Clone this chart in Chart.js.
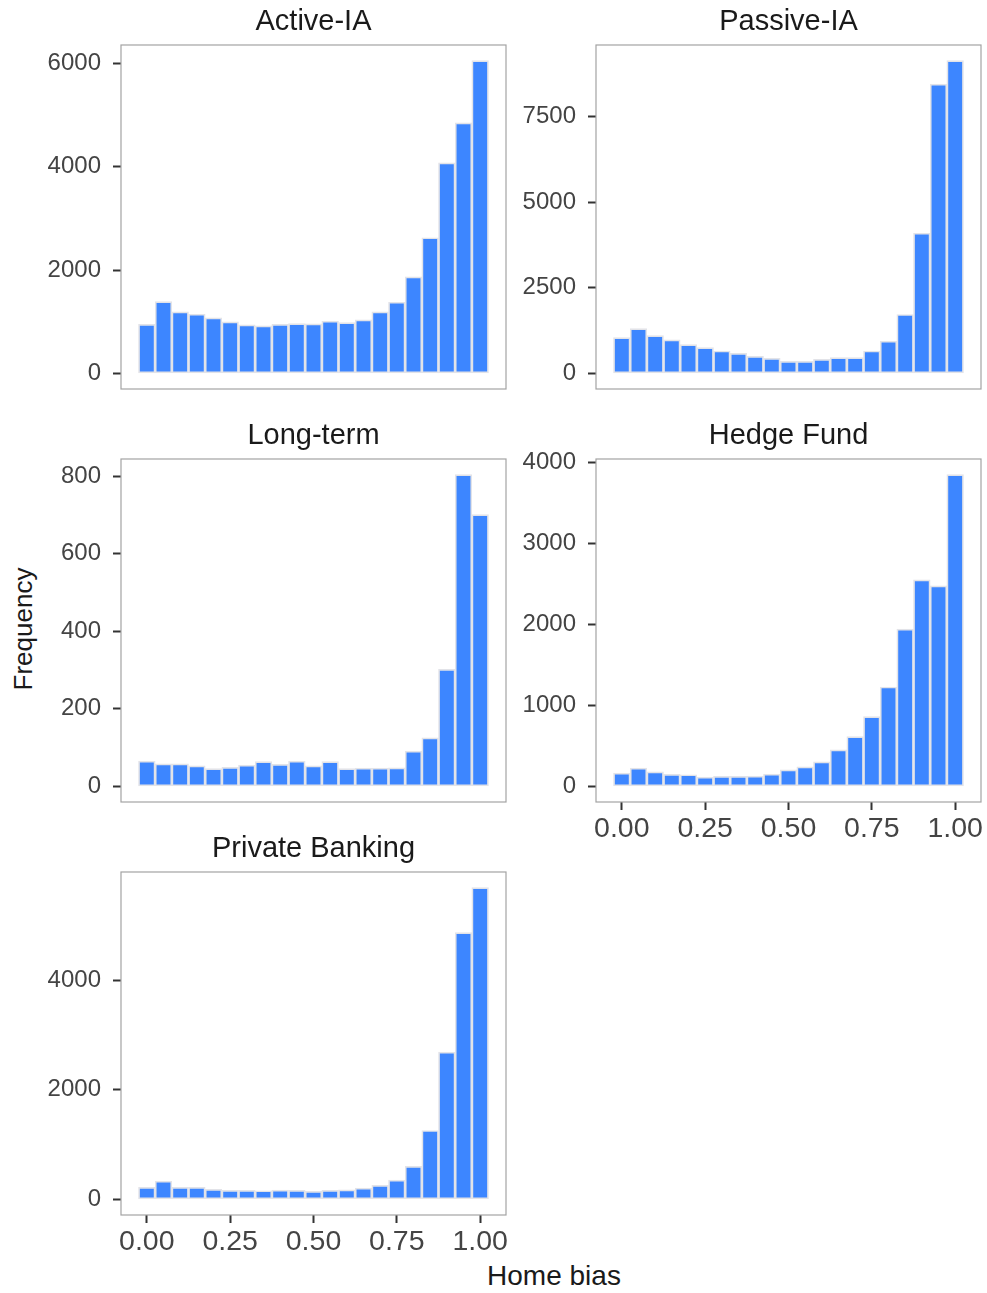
<!DOCTYPE html>
<html>
<head>
<meta charset="utf-8">
<script src="https://cdn.jsdelivr.net/npm/chart.js@4/dist/chart.umd.min.js"></script>
<style>
  html, body { margin: 0; padding: 0; background: #ffffff; }
  #page { position: relative; width: 987px; height: 1293px; background: #ffffff; overflow: hidden;
          font-family: "Liberation Sans", Arial, Helvetica, sans-serif; }
  #page canvas { position: absolute; }
  .axis-title { position: absolute; color: #1a1a1a; white-space: nowrap; line-height: 1; }
</style>
</head>
<body>
<div id="page">
  <div class="axis-title" id="ytitle">Frequency</div>
  <div class="axis-title" id="xtitle">Home bias</div>
</div>
<script>
// Histogram bin centres (home bias share), bin width 0.05
const binCentres = [0.00, 0.05, 0.10, 0.15, 0.20, 0.25, 0.30, 0.35, 0.40, 0.45, 0.50,
                    0.55, 0.60, 0.65, 0.70, 0.75, 0.80, 0.85, 0.90, 0.95, 1.00];

// Counts per bin for each investor type
const activeIA       = [950, 1390, 1190, 1144, 1073, 996, 937, 918, 950, 963, 957,
                        1009, 983, 1034, 1190, 1377, 1868, 2625, 4073, 4849, 6052];
const passiveIA      = [1045, 1309, 1104, 977, 840, 752, 654, 586, 498, 439, 352,
                        352, 410, 459, 459, 654, 938, 1719, 4092, 8447, 9131];
const longTerm       = [65, 58, 58, 53, 46, 49, 55, 64, 57, 65, 53,
                        64, 46, 47, 47, 48, 91, 125, 302, 804, 701];
const hedgeFund      = [164, 226, 180, 148, 144, 115, 123, 123, 127, 152, 205,
                        242, 304, 451, 615, 862, 1227, 1940, 2548, 2474, 3848];
const privateBanking = [219, 334, 219, 219, 182, 164, 164, 158, 170, 164, 146,
                        164, 176, 207, 255, 353, 602, 1258, 2687, 4869, 5690];

// Tick labels
const activeTicks  = [0, 2000, 4000, 6000];
const passiveTicks = [0, 2500, 5000, 7500];
const longTicks    = [0, 200, 400, 600, 800];
const hedgeTicks   = [0, 1000, 2000, 3000, 4000];
const privateTicks = [0, 2000, 4000];
const xTicks       = [0, 0.25, 0.50, 0.75, 1.00];

// Facet titles
const facetTitles = ['Active-IA', 'Passive-IA', 'Long-term', 'Hedge Fund', 'Private Banking'];

const FONT = '"Liberation Sans", Arial, Helvetica, sans-serif';
const Y_ZONE = 121;   // room left of each panel for y ticks
const T_ZONE = 45;    // room above each panel for the facet title
const X_ZONE = 62;    // room below bottom panels for x ticks
const B_PAD = 32;     // spare room below panels without an x axis
const R_PAD = 6;

// x limits: histogram edges plus 5% expansion
const bw = binCentres[1] - binCentres[0];
const xLo = binCentres[0] - bw / 2;
const xHi = binCentres[binCentres.length - 1] + bw / 2;
const xMin = xLo - 0.05 * (xHi - xLo);
const xMax = xHi + 0.05 * (xHi - xLo);

const panelFrame = {
  id: 'panelFrame',
  afterDatasetsDraw(chart) {
    const { ctx, chartArea: a } = chart;
    ctx.save();
    ctx.strokeStyle = '#a3a3a3';
    ctx.lineWidth = 1.2;
    ctx.strokeRect(a.left, a.top, a.right - a.left, a.bottom - a.top);
    ctx.restore();
  }
};

function makePanel(title, counts, yTicks, panel, showX) {
  const page = document.getElementById('page');
  const canvas = document.createElement('canvas');
  const bottomPad = showX ? 0 : B_PAD;
  const w = Y_ZONE + panel.w + R_PAD;
  const h = T_ZONE + panel.h + (showX ? X_ZONE : bottomPad);
  canvas.width = w;
  canvas.height = h;
  canvas.style.left = (panel.x - Y_ZONE) + 'px';
  canvas.style.top = (panel.y - T_ZONE) + 'px';
  canvas.style.width = w + 'px';
  canvas.style.height = h + 'px';
  page.appendChild(canvas);

  const yMaxData = Math.max(...counts);
  const points = binCentres.map((x, i) => ({ x: x, y: counts[i] }));

  new Chart(canvas.getContext('2d'), {
    type: 'bar',
    data: {
      datasets: [{
        data: points,
        backgroundColor: '#3d86ff',
        borderColor: '#e2e3e8',
        borderWidth: 1.7,
        borderSkipped: false,
        barPercentage: 1.0,
        categoryPercentage: 1.0
      }]
    },
    options: {
      responsive: false,
      animation: false,
      devicePixelRatio: 1,
      layout: { padding: { left: 0, top: 0, right: R_PAD, bottom: bottomPad } },
      plugins: {
        legend: { display: false },
        tooltip: { enabled: false },
        title: {
          display: true,
          text: title,
          fullSize: false,
          color: '#1a1a1a',
          font: { family: FONT, size: 29, weight: 'normal', lineHeight: 1 },
          padding: { top: 7, bottom: 9 }
        }
      },
      scales: {
        x: {
          type: 'linear',
          display: showX,
          offset: false,
          min: xMin,
          max: xMax,
          grid: { offset: false, drawOnChartArea: false, drawTicks: true, tickLength: 8,
                  tickColor: '#333333', tickWidth: 2 },
          border: { display: false },
          ticks: {
            color: '#444444',
            font: { family: FONT, size: 28.5 },
            padding: 2,
            maxRotation: 0,
            autoSkip: false,
            callback: v => Number(v).toFixed(2)
          },
          afterBuildTicks: s => { s.ticks = xTicks.map(v => ({ value: v })); },
          afterFit: s => { s.height = showX ? X_ZONE : 0; }
        },
        y: {
          type: 'linear',
          min: -0.05 * yMaxData,
          max: 1.05 * yMaxData,
          grid: { drawOnChartArea: false, drawTicks: true, tickLength: 8,
                  tickColor: '#333333', tickWidth: 2 },
          border: { display: false },
          ticks: {
            color: '#444444',
            font: { family: FONT, size: 24 },
            padding: 12,
            callback: v => String(v)
          },
          afterBuildTicks: s => { s.ticks = yTicks.map(v => ({ value: v })); },
          afterFit: s => { s.width = Y_ZONE; }
        }
      }
    },
    plugins: [panelFrame]
  });
}

// Facet grid: two columns, three rows
const col1 = 121, col2 = 596, panelW = 385;
const row1 = 45, row2 = 459, row3 = 872, panelH = 343;

makePanel(facetTitles[0], activeIA,       activeTicks,  { x: col1, y: row1, w: panelW, h: panelH + 1 }, false);
makePanel(facetTitles[1], passiveIA,      passiveTicks, { x: col2, y: row1, w: panelW, h: panelH + 1 }, false);
makePanel(facetTitles[2], longTerm,       longTicks,    { x: col1, y: row2, w: panelW, h: panelH }, false);
makePanel(facetTitles[3], hedgeFund,      hedgeTicks,   { x: col2, y: row2, w: panelW, h: panelH }, true);
makePanel(facetTitles[4], privateBanking, privateTicks, { x: col1, y: row3, w: panelW, h: panelH }, true);

// Shared axis titles
const yt = document.getElementById('ytitle');
yt.style.fontSize = '26px';
yt.style.left = '23px';
yt.style.top = '629px';
yt.style.transform = 'translate(-50%, -50%) rotate(-90deg)';

const xt = document.getElementById('xtitle');
xt.style.fontSize = '28px';
xt.style.left = '554px';
xt.style.top = '1262px';
xt.style.transform = 'translateX(-50%)';
</script>
</body>
</html>
